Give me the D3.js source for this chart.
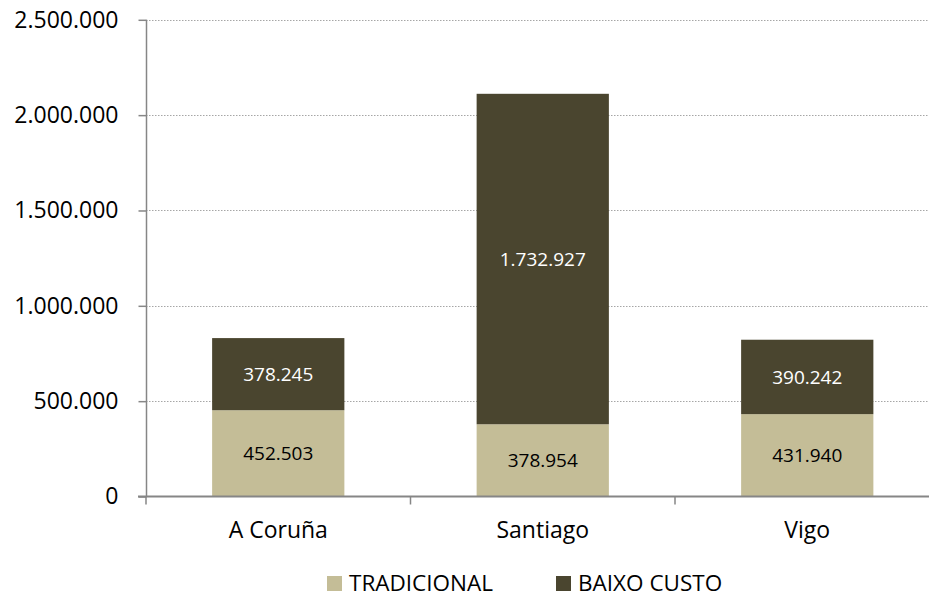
<!DOCTYPE html>
<html>
<head>
<meta charset="utf-8">
<script src="https://cdn.jsdelivr.net/npm/d3@7"></script>
<style>
  body { margin: 0; background: #fff; }
  svg { display: block; font-family: "Open Sans", sans-serif; }
</style>
</head>
<body>
<svg id="chart"></svg>
<script>
// chart data
const categories = ["A Coruña", "Santiago", "Vigo"];
const seriesNames = ["TRADICIONAL", "BAIXO CUSTO"];
const tradicional = [452503, 378954, 431940];
const baixoCusto = [378245, 1732927, 390242];
const yTicks = [0, 500000, 1000000, 1500000, 2000000, 2500000];

const width = 929;
const height = 597;
const colors = ["#C4BD97", "#4A452F"];

// galician style thousands separator
const locale = d3.formatLocale({ decimal: ",", thousands: ".", grouping: [3], currency: ["", "€"] });
const fmt = locale.format(",d");

const svg = d3.select('#chart')
    .attr('width', width)
    .attr('height', height);

// scales
const xScale = d3.scaleBand()
    .domain(categories)
    .range([146, 939.5])
    .paddingInner(0.5)
    .paddingOuter(0.25);

const yScale = d3.scaleLinear()
    .domain([0, 2500000])
    .range([496.5, 19.8]);

// gridlines (dotted)
svg.append('g')
    .selectAll('line')
    .data(yTicks.slice(1))
    .enter()
    .append('line')
    .attr('x1', 146)
    .attr('x2', width)
    .attr('y1', d => Math.round(yScale(d)) + 0.5)
    .attr('y2', d => Math.round(yScale(d)) + 0.5)
    .attr('stroke', '#A6A6A6')
    .attr('stroke-width', 1)
    .attr('stroke-dasharray', '1.5,1.5');

// stacked data
const stacked = d3.stack().keys([0, 1])(categories.map((c, i) => ({ cat: c, 0: tradicional[i], 1: baixoCusto[i] })));

const layers = svg.append('g')
    .selectAll('g')
    .data(stacked)
    .enter()
    .append('g')
    .attr('fill', (d, i) => colors[i]);

layers.selectAll('rect')
    .data(d => d)
    .enter()
    .append('rect')
    .attr('x', d => xScale(d.data.cat))
    .attr('width', xScale.bandwidth())
    .attr('y', d => yScale(d[1]))
    .attr('height', d => yScale(d[0]) - yScale(d[1]));

// value labels in the middle of each segment
layers.selectAll('text')
    .data(d => d)
    .enter()
    .append('text')
    .attr('x', d => xScale(d.data.cat) + xScale.bandwidth() / 2)
    .attr('y', d => (yScale(d[0]) + yScale(d[1])) / 2)
    .attr('dy', '0.35em')
    .attr('text-anchor', 'middle')
    .attr('font-size', 19)
    .attr('fill', function () { return d3.select(this.parentNode).datum().key === 1 ? '#fff' : '#000'; })
    .text(d => fmt(d[1] - d[0]));

// y axis
const yAxis = d3.axisLeft(yScale)
    .tickValues(yTicks)
    .tickFormat(fmt)
    .tickSize(8)
    .tickPadding(20);

const yG = svg.append('g')
    .attr('transform', 'translate(146.5,0)')
    .call(yAxis);
yG.select('.domain').attr('stroke', '#868686').attr('stroke-width', 1.5).attr('d', `M0,${yScale(2500000)}V${yScale(0)}`);
yG.selectAll('.tick line').attr('stroke', '#868686').attr('stroke-width', 1.5);
yG.selectAll('.tick text').attr('font-size', 23).attr('fill', '#000').attr('font-family', '"Open Sans", sans-serif');

// x axis
const xAxis = d3.axisBottom(xScale)
    .tickSize(0);

const xG = svg.append('g')
    .attr('transform', `translate(0,${yScale(0)})`)
    .call(xAxis);
xG.select('.domain').attr('stroke', '#868686').attr('stroke-width', 2).attr('d', `M138,0H${width}`);
xG.selectAll('.tick text')
    .attr('y', 41.5)
    .attr('dy', 0)
    .attr('font-size', 23)
    .attr('fill', '#000')
    .attr('font-family', '"Open Sans", sans-serif');

// tick marks at category boundaries
const step = xScale.step();
const bounds = categories.map((c) => xScale(c) - step * 0.25);
xG.selectAll('.bound')
    .data(bounds)
    .enter()
    .append('line')
    .attr('x1', d => d)
    .attr('x2', d => d)
    .attr('y1', 0)
    .attr('y2', 8)
    .attr('stroke', '#868686')
    .attr('stroke-width', 1.5);

// legend (kept slightly above the bottom edge so descenders are not clipped)
const legendX = [327, 556];
const legend = svg.append('g')
    .selectAll('g')
    .data(seriesNames)
    .enter()
    .append('g')
    .attr('transform', (d, i) => `translate(${legendX[i]},576)`);

legend.append('rect')
    .attr('width', 15)
    .attr('height', 15)
    .attr('fill', (d, i) => colors[i]);

legend.append('text')
    .attr('x', 22)
    .attr('y', 15)
    .attr('font-size', 22.5)
    .attr('fill', '#000')
    .text(d => d);
</script>
</body>
</html>
